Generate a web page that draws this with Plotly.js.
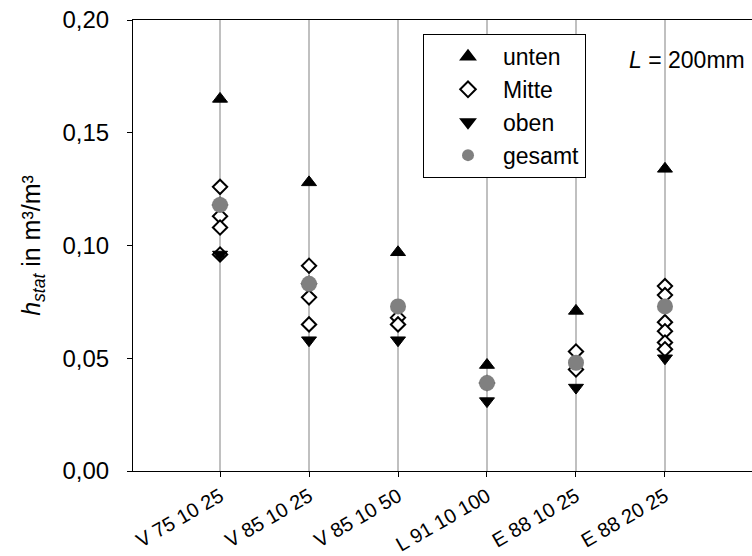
<!DOCTYPE html>
<html>
<head>
<meta charset="utf-8">
<script src="https://cdn.plot.ly/plotly-3.0.1.min.js"></script>
<style>html,body{margin:0;padding:0;background:#fff;}#chart{width:752px;height:556px;}</style>
</head>
<body>
<div id="chart"></div>
<script>
// Categories (index positions 0..5)
var categories = ["V 75 10 25", "V 85 10 25", "V 85 10 50", "L 91 10 100", "E 88 10 25", "E 88 20 25"];

// unten (up triangles)
var untenX = [0, 1, 2, 3, 4, 5];
var untenY = [0.165, 0.128, 0.097, 0.047, 0.071, 0.134];

// Mitte (open diamonds)
var mitteX = [0, 0, 0, 0, 0,
              1, 1, 1, 1,
              2, 2,
              3,
              4, 4,
              5, 5, 5, 5, 5, 5];
var mitteY = [0.126, 0.118, 0.113, 0.108, 0.096,
              0.091, 0.083, 0.077, 0.065,
              0.068, 0.065,
              0.039,
              0.053, 0.045,
              0.082, 0.078, 0.066, 0.062, 0.057, 0.054];

// oben (down triangles)
var obenX = [0, 1, 2, 3, 4, 5];
var obenY = [0.096, 0.058, 0.058, 0.031, 0.037, 0.050];

// gesamt (grey circles)
var gesamtX = [0, 1, 2, 3, 4, 5];
var gesamtY = [0.118, 0.083, 0.073, 0.039, 0.048, 0.073];

var yTicks = [0, 0.05, 0.10, 0.15, 0.20];

var font = "Liberation Sans, Arial, sans-serif";

var traces = [
  {x: untenX, y: untenY, name: "unten", type: "scatter", mode: "markers",
   marker: {symbol: "triangle-up", size: 13, color: "#000", line: {color: "#000", width: 1}}},
  {x: mitteX, y: mitteY, name: "Mitte", type: "scatter", mode: "markers",
   marker: {symbol: "diamond", size: 11, color: "#fff", line: {color: "#000", width: 2}}},
  {x: obenX, y: obenY, name: "oben", type: "scatter", mode: "markers",
   marker: {symbol: "triangle-down", size: 13, color: "#000", line: {color: "#000", width: 1}}},
  {x: gesamtX, y: gesamtY, name: "gesamt", type: "scatter", mode: "markers",
   marker: {symbol: "circle", size: 16, color: "#808080", line: {width: 0}}}
];

var layout = {
  width: 752, height: 556,
  margin: {l: 133, r: 0, t: 20, b: 85},
  paper_bgcolor: "#fff", plot_bgcolor: "#fff",
  separators: ",.",
  font: {family: font, size: 23, color: "#000"},
  showlegend: true,
  legend: {
    x: 0.4685, y: 0.969, xanchor: "left", yanchor: "top",
    bgcolor: "#fff", bordercolor: "#000", borderwidth: 1,
    font: {family: font, size: 23, color: "#000"},
    itemsizing: "constant", itemwidth: 60, indentation: 9,
    traceorder: "normal"
  },
  xaxis: {
    range: [-0.978, 5.978],
    tickmode: "array", tickvals: [0, 1, 2, 3, 4, 5], ticktext: categories,
    tickangle: -30,
    showgrid: true, gridcolor: "#c0c0c0", gridwidth: 2,
    showline: true, linecolor: "#000", linewidth: 1, mirror: true,
    ticks: "outside", ticklen: 5, tickcolor: "#000",
    tickfont: {family: font, size: 20, color: "#000"},
    zeroline: false, fixedrange: true
  },
  yaxis: {
    range: [0, 0.20],
    tickmode: "array", tickvals: yTicks, tickformat: ".2f",
    showgrid: false,
    showline: true, linecolor: "#000", linewidth: 1,
    ticks: "outside", ticklen: 5, tickcolor: "#000",
    tickfont: {family: font, size: 24, color: "#000"},
    ticklabelstandoff: 13,
    zeroline: false, fixedrange: true,
    title: {text: "<i>h</i><sub><i>stat</i></sub> in m³/m³", font: {family: font, size: 25, color: "#000"}, standoff: 14}
  },
  annotations: [{
    xref: "paper", yref: "paper", x: 0.798, y: 0.911, xanchor: "left", yanchor: "middle",
    text: "<i>L</i> = 200mm", showarrow: false, font: {family: font, size: 23, color: "#000"}
  }]
};

Plotly.newPlot("chart", traces, layout, {staticPlot: true, displayModeBar: false});
</script>
</body>
</html>
